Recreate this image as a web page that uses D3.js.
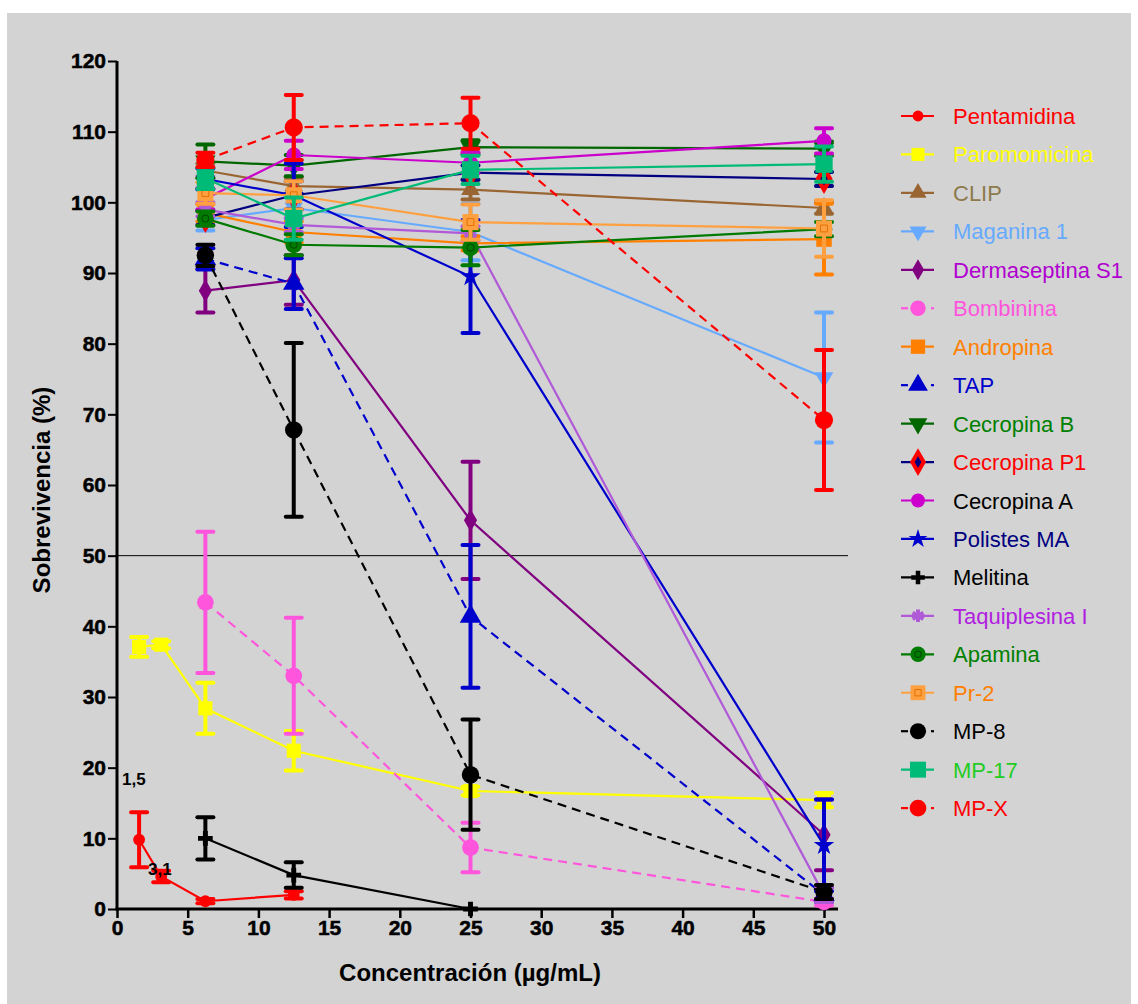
<!DOCTYPE html>
<html>
<head>
<meta charset="utf-8">
<script src="https://cdn.jsdelivr.net/npm/d3@7"></script>
<style>
  body { margin: 0; background: #fff; }
  text { font-family: "Liberation Sans", Arial, sans-serif; }
  .tick text { font-weight: bold; font-size: 21px; fill: #000; stroke: #000; stroke-width: 0.5px; }
</style>
</head>
<body>
<div id="chart"></div>
<script>
// ---- data ----
const conc = [6.25, 12.5, 25, 50];
const concLow = [1.5625, 3.125, 6.25, 12.5];
const concParo = [1.5625, 3.125, 6.25, 12.5, 25, 50];
const concMeli = [6.25, 12.5, 25];

const names = ["Pentamidina", "Paromomicina", "CLIP", "Maganina 1", "Dermaseptina S1", "Bombinina",
  "Andropina", "TAP", "Cecropina B", "Cecropina P1", "Cecropina A", "Polistes MA", "Melitina",
  "Taquiplesina I", "Apamina", "Pr-2", "MP-8", "MP-17", "MP-X"];

const pentamidina = [9.8, 4.6, 1.1, 2.0];
const paromomicina = [37.1, 37.4, 28.4, 22.4, 16.7, 15.4];
const clip = [104.5, 102.3, 101.8, 99.2];
const maganina = [97.5, 99.2, 95.8, 75.2];
const dermaseptina = [87.5, 89, 55, 10.5];
const bombinina = [43.4, 33, 8.7, 1];
const andropina = [98.5, 95.8, 94.2, 94.8];
const tap = [92, 88.5, 41.4, 2];
const cecropinaB = [105.8, 105.2, 107.8, 107.6];
const cecropinaP1 = [97.8, 101, 104.2, 103.3];
const cecropinaA = [100.5, 106.7, 105.6, 108.7];
const polistes = [103.3, 101, 89.5, 9];
const melitina = [10, 4.8, 0];
const taquiplesina = [99, 96.8, 95.6, 2];
const apamina = [97.7, 94, 93.6, 96.2];
const pr2 = [101.3, 101, 97.2, 96.3];
const mp8 = [92.5, 67.8, 19, 2.4];
const mp17 = [103.4, 97.7, 104.6, 105.4];
const mpx = [106, 110.6, 111.2, 69.2];

// error half-widths
const errPentamidina = [3.9, 0.8, 0.3, 0.5];
const errParomomicina = [1.4, 0.5, 3.6, 2.8, 0.6, 1.0];
const errClip = [1, 1.2, 1.4, 0.8];
const errMaganina = [1.5, 1.5, 4, 9.2];
const errDermaseptina = [3.1, 3.5, 8.3, 5];
const errBombinina = [10, 8.2, 3.5, 0.5];
const errAndropina = [1.2, 1.5, 1, 5];
const errTap = [1.5, 3.6, 10.1, 1];
const errCecropinaB = [2.4, 1.5, 1, 1];
const errCecropinaP1 = [1, 2, 1, 1];
const errCecropinaA = [1.5, 2, 1.5, 1.8];
const errPolistes = [1.5, 4.5, 8, 6.5];
const errMelitina = [3, 1.8, 0];
const errTaquiplesina = [1, 1, 1, 1];
const errApamina = [1, 1.5, 2.5, 1];
const errPr2 = [1.5, 2, 2.5, 4];
const errMp8 = [1.5, 12.3, 7.8, 1];
const errMp17 = [1.5, 3, 2, 2.5];
const errMpx = [1, 4.6, 3.6, 9.9];

const xTicks = [0, 5, 10, 15, 20, 25, 30, 35, 40, 45, 50];
const yTicks = [0, 10, 20, 30, 40, 50, 60, 70, 80, 90, 100, 110, 120];

// ---- series styling ----
const series = [
  {name: names[0], x: concLow, y: pentamidina, e: errPentamidina, color: "#ff0000", text: "#ff0000", sym: d3.symbolCircle, size: 110},
  {name: names[1], x: concParo, y: paromomicina, e: errParomomicina, color: "#ffff00", text: "#ffff00", sym: d3.symbolSquare, size: 200},
  {name: names[2], x: conc, y: clip, e: errClip, color: "#996633", text: "#8c7a4a", sym: d3.symbolTriangle, size: 150},
  {name: names[3], x: conc, y: maganina, e: errMaganina, color: "#66aaff", text: "#66aaff", sym: d3.symbolTriangle, rot: 180, size: 150},
  {name: names[4], x: conc, y: dermaseptina, e: errDermaseptina, color: "#800080", text: "#b000d0", sym: d3.symbolDiamond, size: 150},
  {name: names[5], x: conc, y: bombinina, e: errBombinina, color: "#ff55dd", text: "#ff55dd", sym: d3.symbolCircle, size: 220, dash: true},
  {name: names[6], x: conc, y: andropina, e: errAndropina, color: "#ff8000", text: "#ff8000", sym: d3.symbolSquare, size: 240},
  {name: names[7], x: conc, y: tap, e: errTap, color: "#0000cc", text: "#0000cc", sym: d3.symbolTriangle, size: 200, dash: true},
  {name: names[8], x: conc, y: cecropinaB, e: errCecropinaB, color: "#006600", text: "#008000", sym: d3.symbolTriangle, rot: 180, size: 180},
  {name: names[9], x: conc, y: cecropinaP1, e: errCecropinaP1, color: "#000080", text: "#ff0000", sym: d3.symbolDiamond, size: 260, fill: "#ff0000", inner: "#000080"},
  {name: names[10], x: conc, y: cecropinaA, e: errCecropinaA, color: "#cc00cc", text: "#000000", sym: d3.symbolCircle, size: 180},
  {name: names[11], x: conc, y: polistes, e: errPolistes, color: "#0000cc", text: "#000080", sym: d3.symbolStar, size: 130},
  {name: names[12], x: concMeli, y: melitina, e: errMelitina, color: "#000000", text: "#000000", sym: d3.symbolCross, size: 120},
  {name: names[13], x: conc, y: taquiplesina, e: errTaquiplesina, color: "#b05ad8", text: "#b020e0", sym: d3.symbolAsterisk, size: 130, strokeSym: true},
  {name: names[14], x: conc, y: apamina, e: errApamina, color: "#007a00", text: "#008000", sym: d3.symbolCircle, size: 220, inner: "#004400", innerHollow: true},
  {name: names[15], x: conc, y: pr2, e: errPr2, color: "#ffa040", text: "#ff8000", sym: d3.symbolSquare, size: 260, inner: "#e07000", innerHollow: true},
  {name: names[16], x: conc, y: mp8, e: errMp8, color: "#000000", text: "#000000", sym: d3.symbolCircle, size: 240, dash: true},
  {name: names[17], x: conc, y: mp17, e: errMp17, color: "#00bb77", text: "#22cc22", sym: d3.symbolSquare, size: 300},
  {name: names[18], x: conc, y: mpx, e: errMpx, color: "#ff0000", text: "#ff0000", sym: d3.symbolCircle, size: 260, dash: true}
];

// ---- layout ----
const W = 1138, H = 1004;
const svg = d3.select("#chart").append("svg")
  .attr("width", W).attr("height", H);

svg.append("rect")
  .attr("x", 7).attr("y", 13)
  .attr("width", 1124).attr("height", H - 13)
  .attr("fill", "#d3d3d3");

const x = d3.scaleLinear().domain([0, 50]).range([117, 824]);
const y = d3.scaleLinear().domain([0, 120]).range([909, 61]);

// 50% reference line
svg.append("line")
  .attr("x1", x(0)).attr("x2", 848)
  .attr("y1", y(50)).attr("y2", y(50))
  .attr("stroke", "#000").attr("stroke-width", 1);

// axes
const xAxis = svg.append("g")
  .attr("transform", "translate(0," + y(0) + ")")
  .call(d3.axisBottom(x).tickValues(xTicks).tickSize(9).tickPadding(2).tickFormat(d3.format("d")));
xAxis.select(".domain").remove();
xAxis.append("line")
  .attr("x1", x(0) - 1.5).attr("x2", 838).attr("y1", 0).attr("y2", 0)
  .attr("stroke", "#000").attr("stroke-width", 3);
xAxis.selectAll(".tick line").attr("stroke-width", 2.5);

const yAxis = svg.append("g")
  .attr("transform", "translate(" + x(0) + ",0)")
  .call(d3.axisLeft(y).tickValues(yTicks).tickSize(9).tickPadding(2).tickFormat(d3.format("d")));
yAxis.select(".domain").remove();
yAxis.append("line")
  .attr("x1", 0).attr("x2", 0).attr("y1", y(120)).attr("y2", y(0) + 1.5)
  .attr("stroke", "#000").attr("stroke-width", 3);
yAxis.selectAll(".tick line").attr("stroke-width", 2);

// axis titles
svg.append("text")
  .attr("x", 470).attr("y", 981)
  .attr("text-anchor", "middle")
  .attr("font-weight", "bold").attr("font-size", 24)
  .text("Concentración (µg/mL)");

svg.append("text")
  .attr("transform", "translate(50,490) rotate(-90)")
  .attr("text-anchor", "middle")
  .attr("font-weight", "bold").attr("font-size", 24)
  .text("Sobrevivencia (%)");

// marker helper
function drawMarker(g, s, cx, cy, scale) {
  const sz = s.size * (scale || 1);
  const sym = d3.symbol().type(s.sym).size(sz);
  const p = g.append("path")
    .attr("d", sym())
    .attr("transform", "translate(" + cx + "," + cy + ")" + (s.rot ? " rotate(" + s.rot + ")" : ""));
  if (s.strokeSym) {
    p.attr("fill", "none").attr("stroke", s.color).attr("stroke-width", 4);
  } else {
    p.attr("fill", s.fill || s.color);
  }
  if (s.inner) {
    const inSym = d3.symbol().type(s.sym).size(sz * 0.18);
    g.append("path")
      .attr("d", inSym())
      .attr("transform", "translate(" + cx + "," + cy + ")")
      .attr("fill", s.innerHollow ? "none" : s.inner)
      .attr("stroke", s.innerHollow ? s.inner : "none")
      .attr("stroke-width", 1);
  }
}

// plot series (legend order, later ones on top)
const plot = svg.append("g");
const line = d3.line().x(d => x(d[0])).y(d => y(d[1]));

series.forEach(s => {
  const g = plot.append("g");
  const pts = s.x.map((v, i) => [v, s.y[i], s.e[i]]);

  g.append("path")
    .datum(pts)
    .attr("d", line)
    .attr("fill", "none")
    .attr("stroke", s.color)
    .attr("stroke-width", 2.2)
    .attr("stroke-dasharray", s.dash ? "9,6" : null);

  // error bars
  pts.filter(d => d[2] > 0).forEach(d => {
    const cx = x(d[0]);
    g.append("line")
      .attr("x1", cx).attr("x2", cx)
      .attr("y1", y(d[1] - d[2])).attr("y2", y(d[1] + d[2]))
      .attr("stroke", s.color).attr("stroke-width", 4);
    [d[1] - d[2], d[1] + d[2]].forEach(v => {
      g.append("line")
        .attr("x1", cx - 8).attr("x2", cx + 8)
        .attr("y1", y(v)).attr("y2", y(v))
        .attr("stroke", s.color).attr("stroke-width", 4)
        .attr("stroke-linecap", "round");
    });
  });

  pts.forEach(d => drawMarker(g, s, x(d[0]), y(d[1])));
});

// low-concentration annotations
svg.append("text")
  .attr("x", 122).attr("y", 785)
  .attr("font-weight", "bold").attr("font-size", 17)
  .text("1,5");
svg.append("text")
  .attr("x", 148).attr("y", 875)
  .attr("font-weight", "bold").attr("font-size", 17)
  .text("3,1");

// legend
const legend = svg.append("g");
series.forEach((s, i) => {
  const ly = 116 + i * 38.45;
  const g = legend.append("g");
  if (s.dash) {
    g.append("line").attr("x1", 901).attr("x2", 908).attr("y1", ly).attr("y2", ly)
      .attr("stroke", s.color).attr("stroke-width", 2.2);
    g.append("line").attr("x1", 931).attr("x2", 934).attr("y1", ly).attr("y2", ly)
      .attr("stroke", s.color).attr("stroke-width", 2.2);
  } else {
    g.append("line").attr("x1", 901).attr("x2", 934).attr("y1", ly).attr("y2", ly)
      .attr("stroke", s.color).attr("stroke-width", 2.2);
  }
  drawMarker(g, s, 918, ly, 0.85);
  g.append("text")
    .attr("x", 953).attr("y", ly + 8)
    .attr("font-size", 22)
    .attr("fill", s.text)
    .text(s.name);
});
</script>
</body>
</html>
